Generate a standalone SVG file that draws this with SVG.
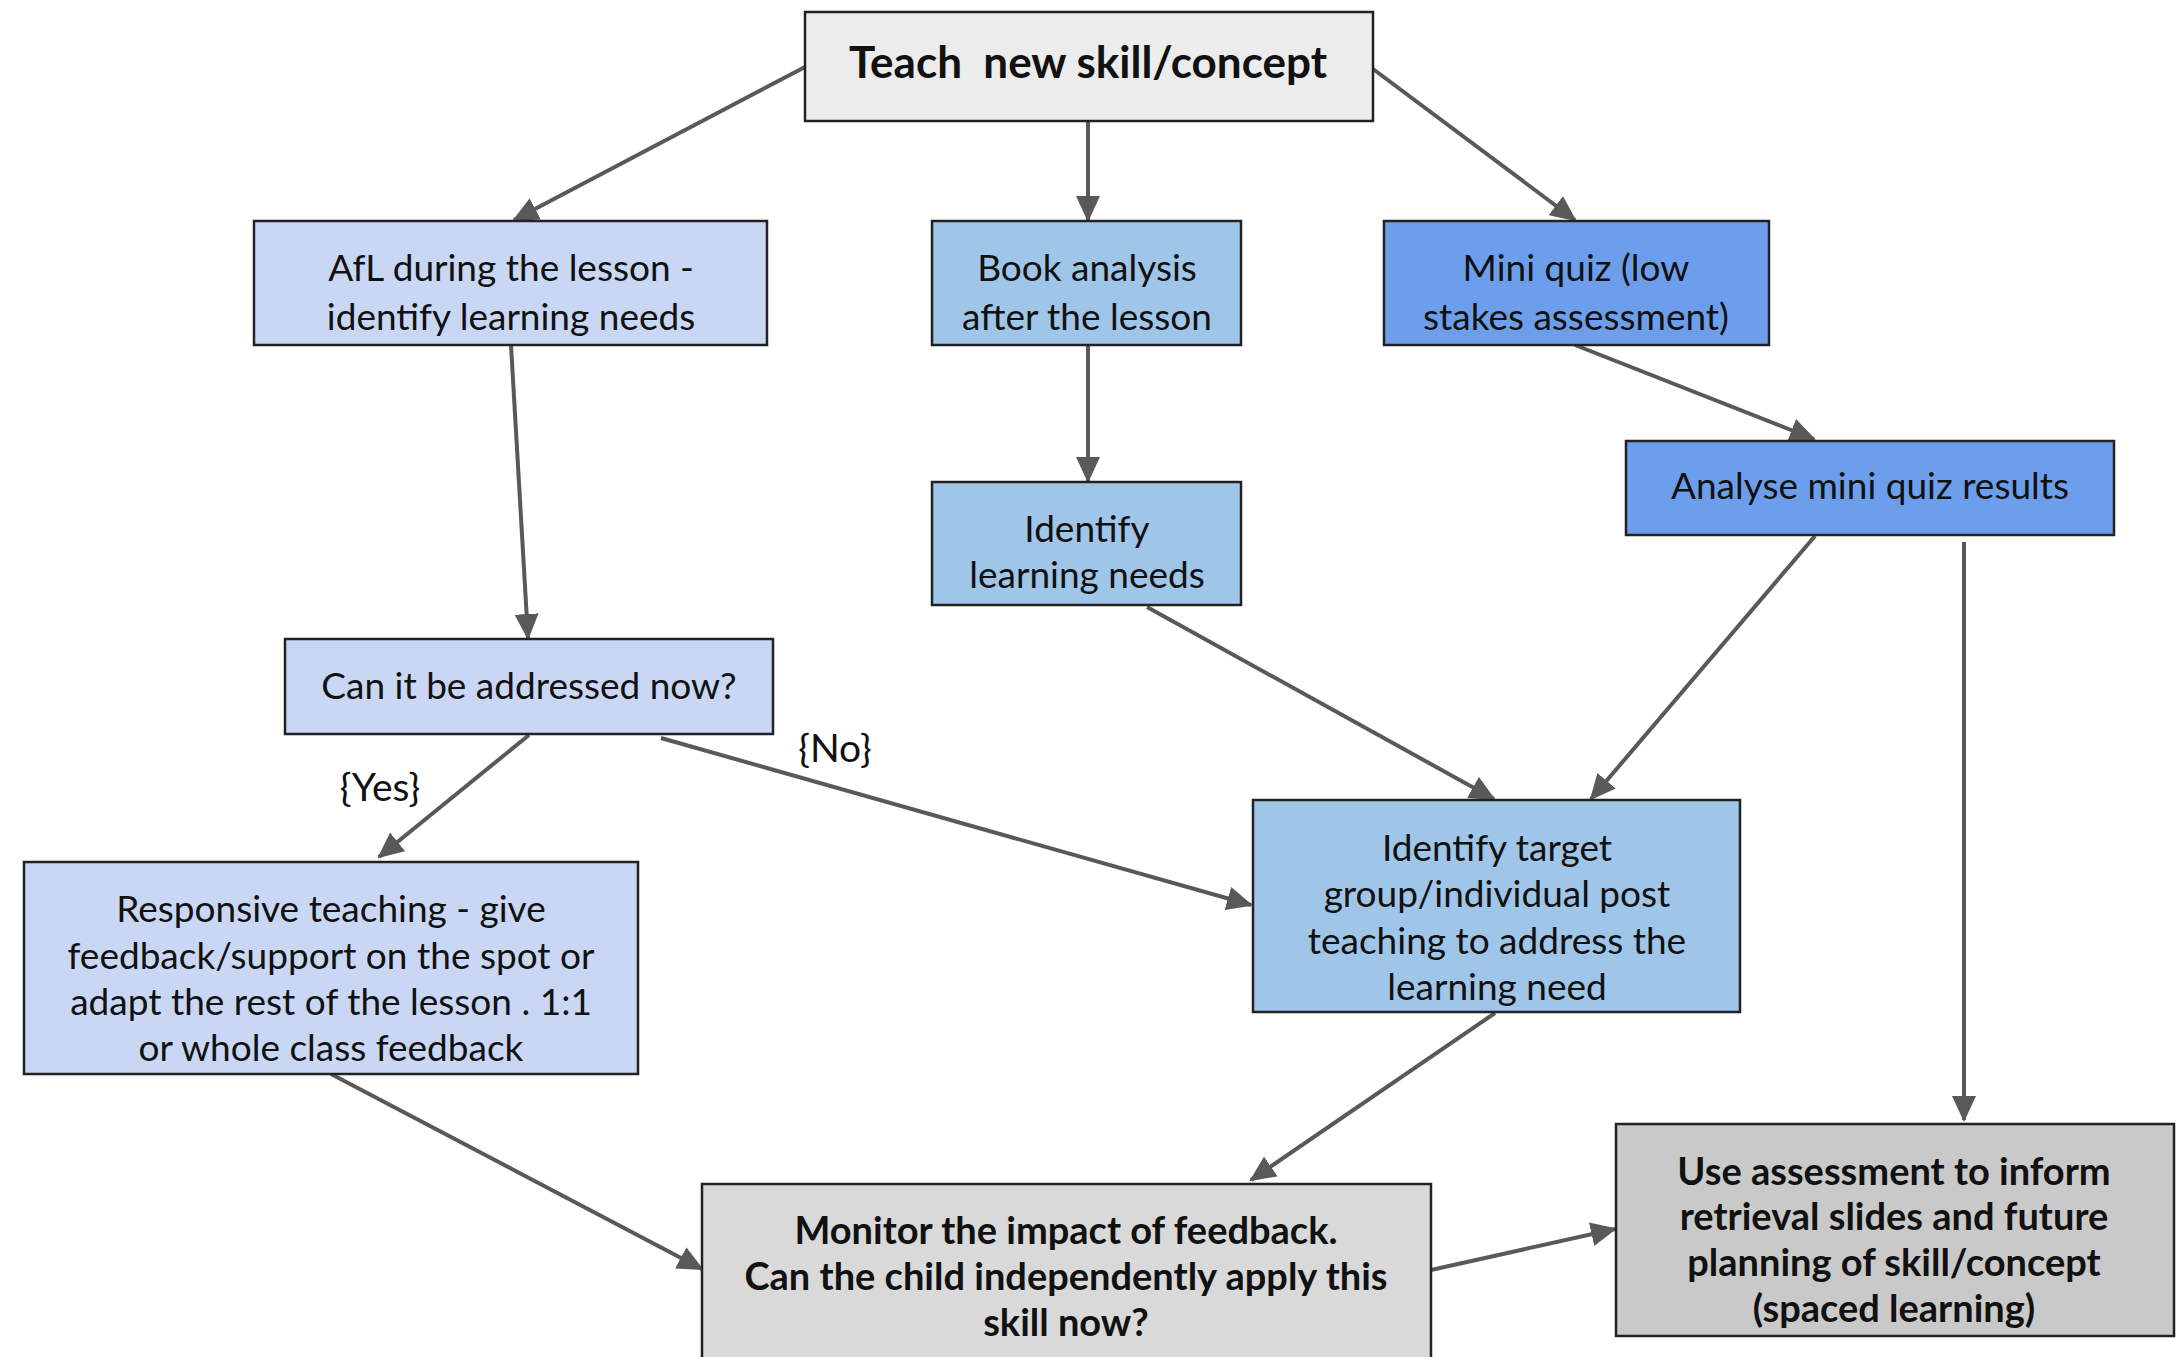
<svg xmlns="http://www.w3.org/2000/svg" width="2179" height="1357" viewBox="0 0 2179 1357">
<defs>
<marker id="ah" markerWidth="26" markerHeight="24" refX="24" refY="12" orient="auto" markerUnits="userSpaceOnUse" viewBox="0 0 26 24"><path d="M0,0 L26,12 L0,24 z" fill="#595959"/></marker>
<style>
.box{stroke:#222;stroke-width:2.5}
.t{font-family:Lato,"Liberation Sans",sans-serif;font-size:37px;fill:#111;text-anchor:middle}
.b{font-weight:bold;font-size:38px}
.c{stroke:#595959;stroke-width:4;fill:none;marker-end:url(#ah)}
.lbl{font-family:Lato,"Liberation Sans",sans-serif;font-size:39px;fill:#111;text-anchor:middle}
</style>
</defs>
<rect width="2179" height="1357" fill="#fff"/>
<g id="connectors">
<line class="c" x1="805" y1="67" x2="514" y2="220"/>
<line class="c" x1="1088" y1="121" x2="1088" y2="220"/>
<line class="c" x1="1373" y1="69" x2="1575" y2="220"/>
<line class="c" x1="511" y1="345" x2="528" y2="638"/>
<line class="c" x1="1088" y1="345" x2="1088" y2="481"/>
<line class="c" x1="1575" y1="345" x2="1814" y2="439"/>
<line class="c" x1="1147" y1="607" x2="1494" y2="799"/>
<line class="c" x1="1815" y1="536" x2="1591" y2="799"/>
<line class="c" x1="1964" y1="542" x2="1964" y2="1120"/>
<line class="c" x1="529" y1="735" x2="379" y2="857"/>
<line class="c" x1="661" y1="738" x2="1251" y2="905"/>
<line class="c" x1="331" y1="1074" x2="702" y2="1269"/>
<line class="c" x1="1495" y1="1013" x2="1251" y2="1180"/>
<line class="c" x1="1431" y1="1270" x2="1615" y2="1229"/>
<text class="lbl" x="380" y="801">{Yes}</text>
<text class="lbl" x="835" y="762">{No}</text>
</g>
<g id="teach">
<rect class="box" x="805" y="12" width="568" height="109" fill="#ececec"/>
<text class="t" x="1088" y="78" style="font-size:44px;font-weight:bold;white-space:pre" xml:space="preserve">Teach  new skill/concept</text>
</g>
<g id="afl">
<rect class="box" x="254" y="221" width="513" height="124" fill="#c9d7f4"/>
<text class="t" x="511" y="281">AfL during the lesson -</text>
<text class="t" x="511" y="330">identify learning needs</text>
</g>
<g id="book">
<rect class="box" x="932" y="221" width="309" height="124" fill="#9fc5e8"/>
<text class="t" x="1087" y="281">Book analysis</text>
<text class="t" x="1087" y="330">after the lesson</text>
</g>
<g id="quiz">
<rect class="box" x="1384" y="221" width="385" height="124" fill="#6d9eeb"/>
<text class="t" x="1576" y="281">Mini quiz (low</text>
<text class="t" x="1576" y="330">stakes assessment)</text>
</g>
<g id="analyse">
<rect class="box" x="1626" y="441" width="488" height="94" fill="#6d9eeb"/>
<text class="t" x="1870" y="499">Analyse mini quiz results</text>
</g>
<g id="identify">
<rect class="box" x="932" y="482" width="309" height="123" fill="#9fc5e8"/>
<text class="t" x="1087" y="542">Identify</text>
<text class="t" x="1087" y="588">learning needs</text>
</g>
<g id="can">
<rect class="box" x="285" y="639" width="488" height="95" fill="#c9d7f4"/>
<text class="t" x="529" y="699">Can it be addressed now?</text>
</g>
<g id="responsive">
<rect class="box" x="24" y="862" width="614" height="212" fill="#c9d7f4"/>
<text class="t" x="331" y="922">Responsive teaching - give</text>
<text class="t" x="331" y="969">feedback/support on the spot or</text>
<text class="t" x="331" y="1015">adapt the rest of the lesson . 1:1</text>
<text class="t" x="331" y="1061">or whole class feedback</text>
</g>
<g id="target">
<rect class="box" x="1253" y="800" width="487" height="212" fill="#9fc5e8"/>
<text class="t" x="1497" y="861">Identify target</text>
<text class="t" x="1497" y="907">group/individual post</text>
<text class="t" x="1497" y="954">teaching to address the</text>
<text class="t" x="1497" y="1000">learning need</text>
</g>
<g id="monitor">
<rect class="box" x="702" y="1184" width="729" height="190" fill="#d9d9d9"/>
<text class="t b" x="1066" y="1244">Monitor the impact of feedback.</text>
<text class="t b" x="1066" y="1290">Can the child independently apply this</text>
<text class="t b" x="1066" y="1336">skill now?</text>
</g>
<g id="use">
<rect class="box" x="1616" y="1124" width="558" height="212" fill="#c9c9c9"/>
<text class="t b" x="1894" y="1185">Use assessment to inform</text>
<text class="t b" x="1894" y="1230">retrieval slides and future</text>
<text class="t b" x="1894" y="1276">planning of skill/concept</text>
<text class="t b" x="1894" y="1322">(spaced learning)</text>
</g>
</svg>
